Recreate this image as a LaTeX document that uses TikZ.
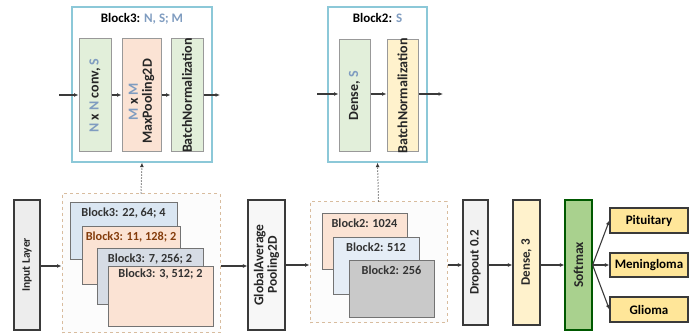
\documentclass[tikz,border=0pt]{standalone}
\usepackage{fontspec}
\setmainfont{Carlito}
\usepackage{xcolor}
\usetikzlibrary{arrows.meta,positioning,calc}
\definecolor{parcol}{HTML}{7F9CC0}
\definecolor{edgecol}{HTML}{3A3A3A}
\definecolor{tealbox}{HTML}{8CC8D8}
\definecolor{dashcol}{HTML}{D8BC9E}
\definecolor{lgreen}{HTML}{E2EFDA}
\definecolor{lpeach}{HTML}{FBE3D4}
\definecolor{lcream}{HTML}{FFF2CC}
\definecolor{lblue}{HTML}{DAE6F2}
\definecolor{lslate}{HTML}{D6DCE5}
\definecolor{lgray}{HTML}{C9C9C9}
\definecolor{dgreen}{HTML}{A9D18E}
\definecolor{gold}{HTML}{FFE699}
\definecolor{brown}{HTML}{843C0C}
\newcommand{\pv}[1]{\textcolor{parcol}{#1}}
\newcommand{\fs}[1]{\fontsize{#1}{#1}\selectfont\bfseries}
\tikzset{%
      layer/.style = { draw=edgecol, line width=1.2pt, inner sep=0pt },
      outer/.style = { draw=tealbox, line width=1.3pt, fill=white, inner sep=0pt },
      inner/.style = { draw=gray!80, line width=1pt, inner sep=0pt },
      group/.style = { draw=dashcol, dashed, line width=1pt, fill=black!1, inner sep=0pt },
       card/.style = { draw=gray!90!black, line width=1pt, inner sep=0pt },
    cardlbl/.style = { inner sep=2pt, text=black!80, font=\fs{12.3} },
      vtext/.style = { rotate=90, align=center, text=black!85 },
       flow/.style = { ->, draw=edgecol, line width=1.1pt },
       link/.style = { ->, draw=edgecol, line width=1pt, dotted }
}
\begin{document}
\begin{tikzpicture}[x=1pt,y=-1pt,font=\fs{13},>={Latex[length=4.5pt,width=4pt]}]
\useasboundingbox (0,0) rectangle (689,336);

% detail of Block3
\node[outer, minimum width=140, minimum height=155] (b3) at (142,84.5) {};
\node (b3t) at (142,19) {Block3: \pv{N, S; M}};
\node[inner, fill=lgreen, minimum width=32, minimum height=113] (conv) at (95,95.5) {};
\node[inner, fill=lpeach, minimum width=39, minimum height=113] (pool) at (141.5,95.5) {};
\node[inner, fill=lgreen, minimum width=32, minimum height=113] (bn3) at (187,95.5) {};
\node[vtext, font=\fs{14}] (convt) at (conv) {\pv{N} x \pv{N} conv, \pv{S}};
\node[vtext, font=\fs{14}] (poolt) at ($(pool)+(0,6)$) {\pv{M} x \pv{M}\\MaxPooling2D};
\node[vtext, font=\fs{14}] (bn3t) at (bn3) {BatchNormalization};
\coordinate (b3in) at (59,95);
\coordinate (b3out) at (220,95);
\draw[flow] (b3in) -- (b3in -| conv.west);
\draw[flow] (b3in -| conv.east) -- (b3in -| pool.west);
\draw[flow] (b3in -| pool.east) -- (b3in -| bn3.west);
\draw[flow] (b3in -| bn3.east) -- (b3out);

% detail of Block2
\node[outer, minimum width=99, minimum height=155] (b2) at (377.5,84.5) {};
\node (b2t) at (377.5,18) {Block2: \pv{S}};
\node[inner, fill=lgreen, minimum width=31, minimum height=112] (dns) at (354.5,96) {};
\node[inner, fill=lcream, minimum width=31, minimum height=112] (bn2) at (402.5,96) {};
\node[vtext, font=\fs{14}] (dnst) at (dns) {Dense, \pv{S}};
\node[vtext, font=\fs{14}] (bn2t) at (bn2) {BatchNormalization};
\coordinate (b2in) at (317,94);
\coordinate (b2out) at (443,94);
\draw[flow] (b2in) -- (b2in -| dns.west);
\draw[flow] (b2in -| dns.east) -- (b2in -| bn2.west);
\draw[flow] (b2in -| bn2.east) -- (b2out);

% main row
\node[layer, fill=black!7, minimum width=26, minimum height=130] (inp) at (27,265) {};
\node[vtext, font=\fs{11.5}] (inpt) at (inp) {Input Layer};

\node[group, minimum width=158, minimum height=139] (g3) at (141,263.5) {};
\node[card, fill=lblue, minimum width=107, minimum height=57] (c31) at (123.5,231.5) {};
\node[cardlbl, below=3pt of c31.north] (c31t) {Block3: 22, 64; 4};
\node[card, fill=lpeach, minimum width=98, minimum height=58] (c32) at (131,256) {};
\node[cardlbl, below=3pt of c32.north, text=brown] (c32t) {Block3: 11, 128; 2};
\node[card, fill=lslate, minimum width=106, minimum height=56] (c33) at (150,277) {};
\node[cardlbl, below=3pt of c33.north] (c33t) {Block3: 7, 256; 2};
\node[card, fill=lpeach, minimum width=105, minimum height=60] (c34) at (160.5,297) {};
\node[cardlbl, below=0pt of c34.north] (c34t) {Block3: 3, 512; 2};

\node[layer, fill=black!3, minimum width=37, minimum height=130] (gap) at (266.5,265) {};
\node[vtext, font=\fs{13.5}] (gapt) at (gap) {GlobalAverage\\Pooling2D};

\node[group, minimum width=137, minimum height=121] (g2) at (378.5,262.5) {};
\node[card, fill=lpeach, minimum width=85, minimum height=56] (c21) at (364.5,242) {};
\node[cardlbl, below=3pt of c21.north] (c21t) {Block2: 1024};
\node[card, fill=lblue!70!white, minimum width=86, minimum height=57] (c22) at (376,266.5) {};
\node[cardlbl, below=3pt of c22.north] (c22t) {Block2: 512};
\node[card, fill=lgray, minimum width=85, minimum height=57] (c23) at (391.5,289.5) {};
\node[cardlbl, below=3pt of c23.north] (c23t) {Block2: 256};

\node[layer, fill=black!5, minimum width=25, minimum height=125] (drop) at (475.5,262.5) {};
\node[vtext] (dropt) at (drop) {Dropout 0.2};
\node[layer, fill=lcream, minimum width=27, minimum height=125] (dn3) at (526.5,262.5) {};
\node[vtext] (dn3t) at (dn3) {Dense, 3};
\node[layer, draw=green!35!black, fill=dgreen, minimum width=27, minimum height=130] (soft) at (578.5,265) {};
\node[vtext, font=\fs{13.5}] (softt) at (soft) {Softmax};

\node[layer, fill=gold, minimum width=78, minimum height=25] (pit) at (649,220.5) {Pituitary};
\node[layer, fill=gold, minimum width=78, minimum height=24] (men) at (649,265) {Meningloma};
\node[layer, fill=gold, minimum width=78, minimum height=25] (gli) at (649,309.5) {Glioma};

\draw[flow] (inp.east |- 0,266) -- (g3.west |- 0,266);
\draw[flow] (g3.east |- 0,266) -- (gap.west |- 0,266);
\draw[flow] (gap.east |- 0,265) -- (g2.west |- 0,265);
\draw[flow] (g2.east |- 0,265) -- (drop.west |- 0,265);
\draw[flow] (drop.east |- 0,265) -- (dn3.west |- 0,265);
\draw[flow] (dn3.east |- 0,265) -- (soft.west |- 0,265);
\draw[flow] (soft.east) -- (pit.west);
\draw[flow] (soft.east) -- (men.west);
\draw[flow] (soft.east) -- (gli.west);

\draw[link] (g3.north) -- (b3.south);
\draw[link] (g2.north) -- (b2.south);
\end{tikzpicture}
\end{document}
